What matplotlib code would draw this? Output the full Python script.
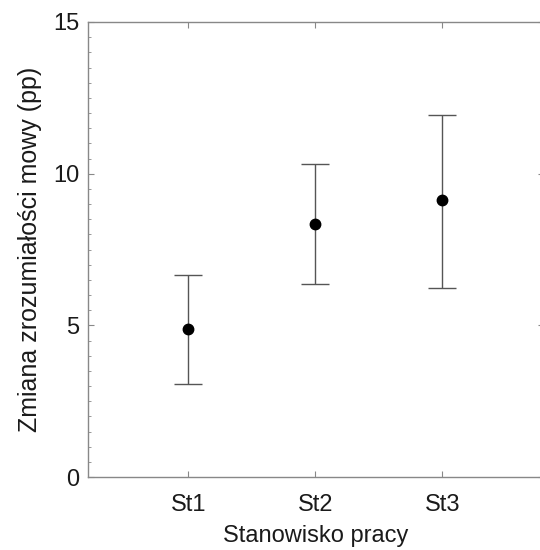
import matplotlib
matplotlib.use("Agg")
import matplotlib.pyplot as plt
from matplotlib.ticker import MultipleLocator

stations = ["St1", "St2", "St3"]
means = [4.88, 8.35, 9.12]
lower = [3.05, 6.35, 6.23]
upper = [6.65, 10.33, 11.95]

plt.rcParams["font.family"] = ["Liberation Sans", "DejaVu Sans"]

fig = plt.figure(figsize=(5.4, 5.5), dpi=100)
ax = fig.add_axes([88 / 540, 73 / 550, 456 / 540, 455 / 550])

x = list(range(1, len(stations) + 1))
err_lo = [m - l for m, l in zip(means, lower)]
err_hi = [u - m for m, u in zip(means, upper)]
ax.errorbar(x, means, yerr=[err_lo, err_hi], fmt="o", color="black",
            markersize=7.5, ecolor="#555555", elinewidth=1.0,
            capsize=10, capthick=1.0)

ax.set_xlim(0.21, 3.8)
ax.set_ylim(0, 15)
ax.set_xticks(x)
ax.set_xticklabels(stations)
ax.yaxis.set_major_locator(MultipleLocator(5))
ax.yaxis.set_minor_locator(MultipleLocator(0.5))

for s in ax.spines.values():
    s.set_color("#888888")
    s.set_linewidth(1.0)
ax.tick_params(which="both", direction="in", color="#888888",
               top=True, right=True, labelsize=17, labelcolor="#1a1a1a")
ax.tick_params(which="major", length=4)
ax.tick_params(which="minor", length=2.5)
ax.tick_params(axis="x", which="minor", bottom=False, top=False)
ax.tick_params(axis="x", pad=12)
ax.tick_params(axis="y", pad=6)

ax.set_xlabel("Stanowisko pracy", fontsize=17, color="#1a1a1a", labelpad=7)
ax.set_ylabel("Zmiana zrozumiałości mowy (pp)", fontsize=18,
              color="#1a1a1a", labelpad=8)

fig.savefig("out.png", dpi=100)
